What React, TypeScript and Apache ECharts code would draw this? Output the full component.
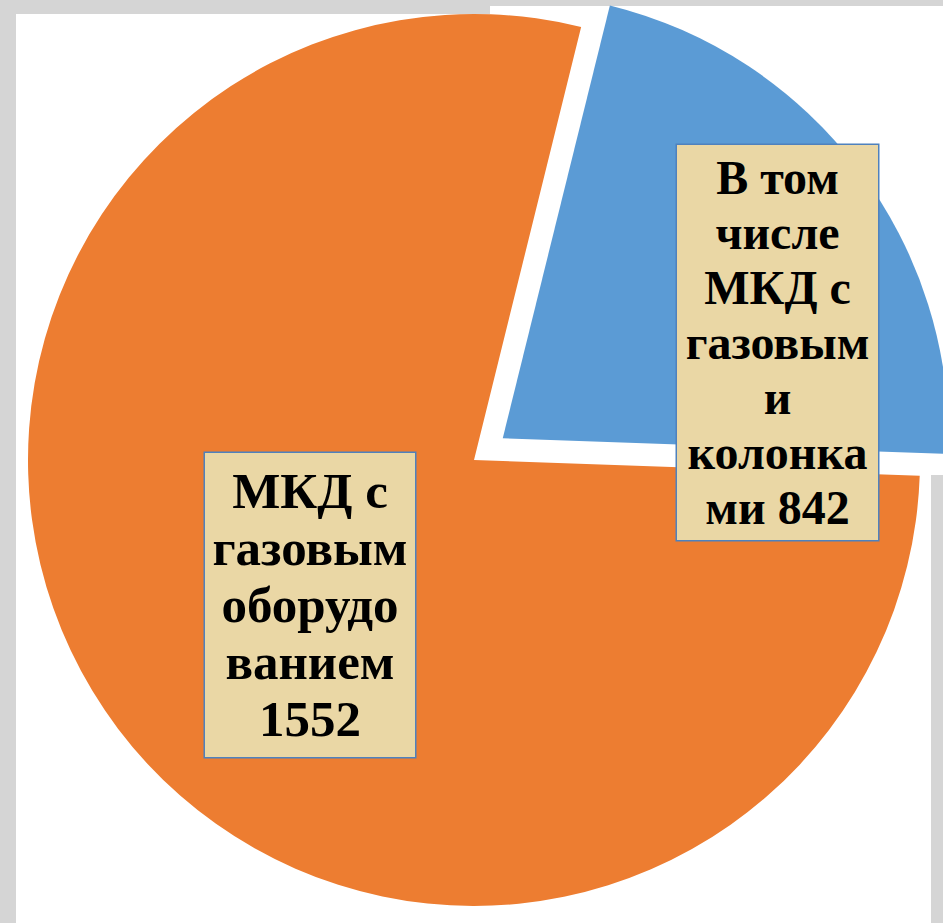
import React, { useEffect, useRef } from "react";
import * as echarts from "echarts";

// Categories (wrapped as in the picture)
const categoryNames = [
  "В том числе МКД с газовыми колонками",
  "МКД с газовым оборудованием",
];
const categoryLabelText = [
  "В том\nчисле\nМКД с\nгазовым\nи\nколонка\nми",
  "МКД с\nгазовым\nоборудо\nванием",
];
// Values printed in the labels
const labelValues = [842, 1552];
// Slice sizes as drawn in the picture (percent of the circle)
const sliceShares = [21.7, 78.3];
const sliceColors = ["#5B9BD5", "#ED7D31"];
const explodedSlice = [true, false];

export default function App() {
  const ref = useRef<HTMLDivElement>(null);
  useEffect(() => {
    document.body.style.margin = "0";
    if (!ref.current) return;
    const chart = echarts.init(ref.current, undefined, { renderer: "svg" });

    const pieCenter = [474, 460];
    const pieRadius = 446;
    const startAngle = 76.1;
    const explodeDist = 36;
    const labelCenters = [
      [777.5, 342.5],
      [310, 605],
    ];
    const labelStyles = [
      { fontSize: 48, lineHeight: 55, width: 201, padding: [4, 0, 6, 0] },
      { fontSize: 51, lineHeight: 57, width: 210, padding: [12, 0, 7, 0] },
    ];
    const total = sliceShares.reduce((a, b) => a + b, 0);

    // One pie series per slice so that the exploded slice can be shifted on its own
    const series = sliceShares.map((_, k) => {
      let before = 0;
      for (let j = 0; j < k; j++) before += sliceShares[j];
      const midDeg = startAngle - ((before + sliceShares[k] / 2) / total) * 360;
      const mid = (midDeg * Math.PI) / 180;
      const d = explodedSlice[k] ? explodeDist : 0;
      const center = [pieCenter[0] + d * Math.cos(mid), pieCenter[1] - d * Math.sin(mid)];
      return {
        type: "pie",
        center,
        radius: pieRadius,
        startAngle,
        clockwise: true,
        avoidLabelOverlap: false,
        emphasis: { disabled: true },
        labelLine: { show: false },
        label: {
          show: true,
          position: "inside",
          color: "#000000",
          fontFamily: "Liberation Serif",
          fontWeight: "bold",
          align: "center",
          backgroundColor: "#ead7a5",
          borderColor: "#4f81bd",
          borderWidth: 1.5,
          formatter: (p: any) =>
            categoryLabelText[p.dataIndex] +
            (p.dataIndex === 0 ? " " : "\n") +
            labelValues[p.dataIndex],
        },
        labelLayout: (params: any) => {
          const c = labelCenters[params.dataIndex];
          return { x: c[0], y: c[1], align: "center", verticalAlign: "middle" };
        },
        data: sliceShares.map((v, i) => ({
          value: v,
          name: categoryNames[i],
          itemStyle: i === k ? { color: sliceColors[i] } : { color: "rgba(0,0,0,0)" },
          label: i === k ? labelStyles[i] : { show: false },
          silent: i !== k,
        })),
      };
    });

    chart.setOption({
      animation: false,
      backgroundColor: "#d5d5d5",
      graphic: [
        { type: "rect", z: -10, shape: { x: 16, y: 14, width: 915, height: 909 }, style: { fill: "#ffffff" } },
        { type: "rect", z: -10, shape: { x: 490, y: 6, width: 453, height: 469 }, style: { fill: "#ffffff" } },
      ],
      series,
    });
    return () => chart.dispose();
  }, []);
  return <div ref={ref} style={{ width: 943, height: 923 }} />;
}
